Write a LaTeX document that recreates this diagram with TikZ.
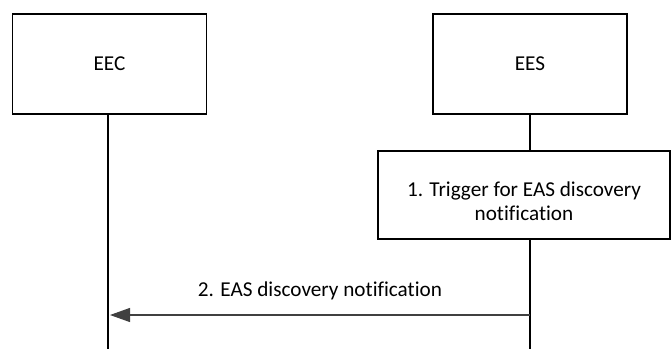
\documentclass[tikz,border=0pt]{standalone}
\usepackage{fontspec}
\setmainfont[Ligatures={NoCommon}]{Carlito}
\usetikzlibrary{arrows.meta}
\begin{document}
\begin{tikzpicture}[x=1pt,y=-1pt,
  txt/.style={font=\fontsize{21.2}{24}\selectfont},
  entity/.style={draw, line width=1.2pt, minimum width=194pt, minimum height=100pt, txt},
  stepbox/.style={draw, line width=1.2pt, minimum width=292pt, minimum height=88pt},
  life/.style={line width=1.2pt},
  msg/.style={line width=1.2pt, draw=black!75, -{Triangle[length=20pt,width=14pt]}}]
\useasboundingbox (0,0) rectangle (671,349);
\node[entity] (eec) at (109.5,64) {EEC};
\node[entity] (ees) at (530,64) {EES};
\node[stepbox] (s1) at (524,195) {};
\node[txt, align=center] (s1t) at (524,201) {1. Trigger for EAS discovery\\notification};
\coordinate (eecend) at (108,349);
\coordinate (eesend) at (530,349);
\coordinate (a) at (530,315);
\coordinate (b) at (110,315);
\draw[life] (eec.south -| eecend) -- (eecend);
\draw[life] (ees.south) -- (s1.north -| ees.south);
\draw[life] (s1.south -| eesend) -- (eesend);
\draw[msg] (a) -- (b) node[midway, above=11pt, text=black, txt] (l2) {2. EAS discovery notification};
\end{tikzpicture}
\end{document}
